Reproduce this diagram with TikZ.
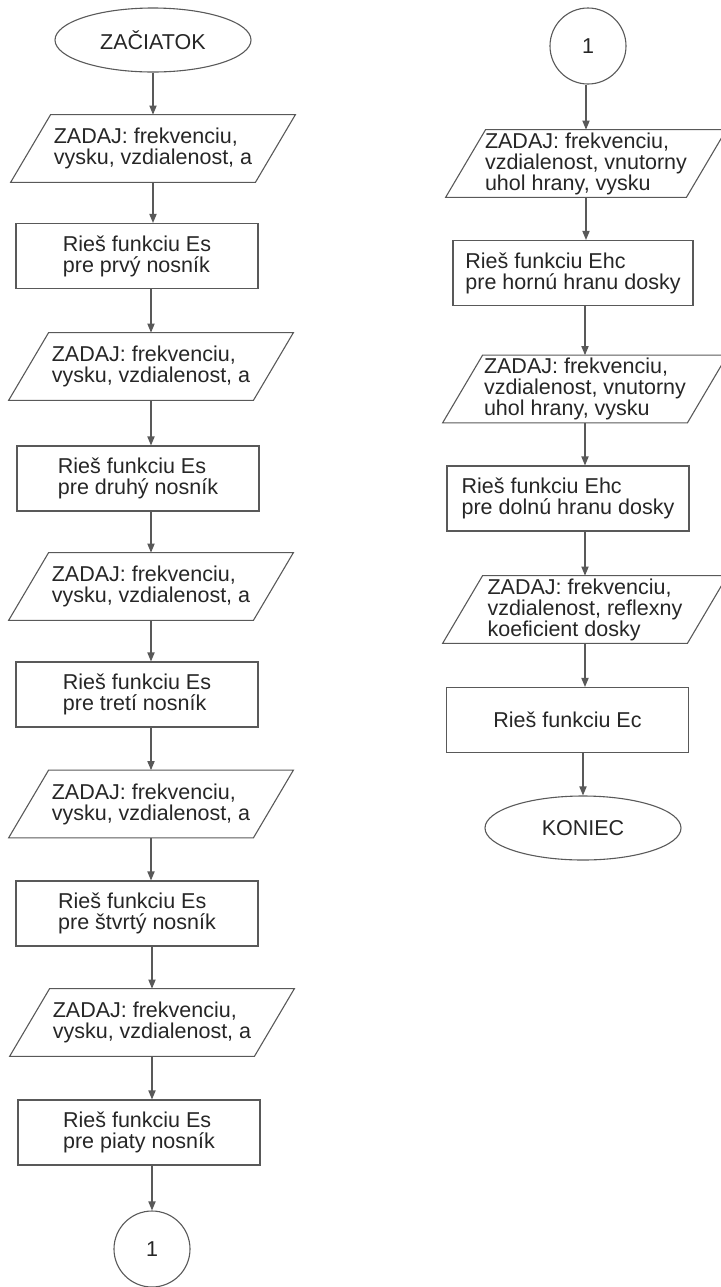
\documentclass[tikz,border=0pt]{standalone}
\usepackage{fontspec}
\setmainfont{Liberation Sans}
\usetikzlibrary{arrows.meta, shapes.geometric}

\begin{document}
\begin{tikzpicture}[x=0.5pt, y=-0.5pt, font=\fontsize{10.75}{10.5}\selectfont, text=black!85]
\useasboundingbox (0,0) rectangle (721,1287);

% flowchart styles
\tikzset{fline/.style={draw=black!65, line width=0.55pt},
         farrow/.style={fline, -{Triangle[length=4.5pt, width=3.6pt]}},
         term/.style={ellipse, fline, minimum width=98pt, minimum height=32pt, inner sep=0pt},
         conn/.style={circle, fline, minimum size=38pt, inner sep=0pt},
         proc/.style={rectangle, fline, minimum width=121pt, minimum height=32.5pt, inner sep=0pt, align=left},
         zadaj/.style={rectangle, minimum width=122pt, minimum height=33.5pt, inner sep=0pt, align=left}}
% \paral{node}: slanted input box drawn round a zadaj node
\newcommand{\paral}[1]{\draw[fline] ([xshift=-10pt]#1.south west) -- ([xshift=-10pt]#1.south east) -- ([xshift=10pt]#1.north east) -- ([xshift=10pt]#1.north west) -- cycle;}

% ===== left column: five beams
\node[term] (start) at (153,40) {ZAČIATOK};
\node[zadaj] (zad1) at (153,148.5) {ZADAJ: frekvenciu,\\vysku, vzdialenost, a}; \paral{zad1}
\node[proc] (es1) at (137,256) {Rieš funkciu Es\\pre prvý nosník};
\node[zadaj] (zad2) at (151,366.5) {ZADAJ: frekvenciu,\\vysku, vzdialenost, a}; \paral{zad2}
\node[proc] (es2) at (138,478.5) {Rieš funkciu Es\\pre druhý nosník};
\node[zadaj] (zad3) at (151,586.5) {ZADAJ: frekvenciu,\\vysku, vzdialenost, a}; \paral{zad3}
\node[proc] (es3) at (137,694.5) {Rieš funkciu Es\\pre tretí nosník};
\node[zadaj] (zad4) at (151,804) {ZADAJ: frekvenciu,\\vysku, vzdialenost, a}; \paral{zad4}
\node[proc] (es4) at (137,913.5) {Rieš funkciu Es\\pre štvrtý nosník};
\node[zadaj] (zad5) at (152,1022.5) {ZADAJ: frekvenciu,\\vysku, vzdialenost, a}; \paral{zad5}
\node[proc] (es5) at (139,1132.5) {Rieš funkciu Es\\pre piaty nosník};
\node[conn] (con1) at (152,1249) {1};

\draw[farrow] (start) -- (start |- zad1.north);
\draw[farrow] (zad1) -- (zad1 |- es1.north);
\draw[farrow] (es1.south -| zad2) -- (zad2);
\draw[farrow] (zad2) -- (zad2 |- es2.north);
\draw[farrow] (es2.south -| zad3) -- (zad3);
\draw[farrow] (zad3) -- (zad3 |- es3.north);
\draw[farrow] (es3.south -| zad4) -- (zad4);
\draw[farrow] (zad4) -- (zad4 |- es4.north);
\draw[farrow] (es4.south -| zad5) -- (zad5);
\draw[farrow] (zad5) -- (zad5 |- es5.north);
\draw[farrow] (es5.south -| con1) -- (con1);

% ===== right column: plate edges
\node[conn] (con2) at (588,46) {1};
\node[zadaj, minimum width=120pt] (zad6) at (586,163.5) {ZADAJ: frekvenciu,\\vzdialenost, vnutorny\\uhol hrany, vysku}; \paral{zad6}
\node[proc, minimum width=120pt] (ehc1) at (573,273) {Rieš funkciu Ehc\\pre hornú hranu dosky};
\node[zadaj] (zad7) at (585,389) {ZADAJ: frekvenciu,\\vzdialenost, vnutorny\\uhol hrany, vysku}; \paral{zad7}
\node[proc] (ehc2) at (568,498.5) {Rieš funkciu Ehc\\pre dolnú hranu dosky};
\node[zadaj] (zad8) at (585,609.5) {ZADAJ: frekvenciu,\\vzdialenost, reflexny\\koeficient dosky}; \paral{zad8}
\node[proc] (ec) at (567.5,720) {Rieš funkciu Ec};
\node[term] (stop) at (583,828) {KONIEC};

\draw[farrow] (con2.south -| zad6) -- (zad6);
\draw[farrow] (zad6) -- (zad6 |- ehc1.north);
\draw[farrow] (ehc1.south -| zad7) -- (zad7);
\draw[farrow] (zad7) -- (zad7 |- ehc2.north);
\draw[farrow] (ehc2.south -| zad8) -- (zad8);
\draw[farrow] (zad8) -- (zad8 |- ec.north);
\draw[farrow] (ec.south -| stop) -- (stop);
\end{tikzpicture}
\end{document}
